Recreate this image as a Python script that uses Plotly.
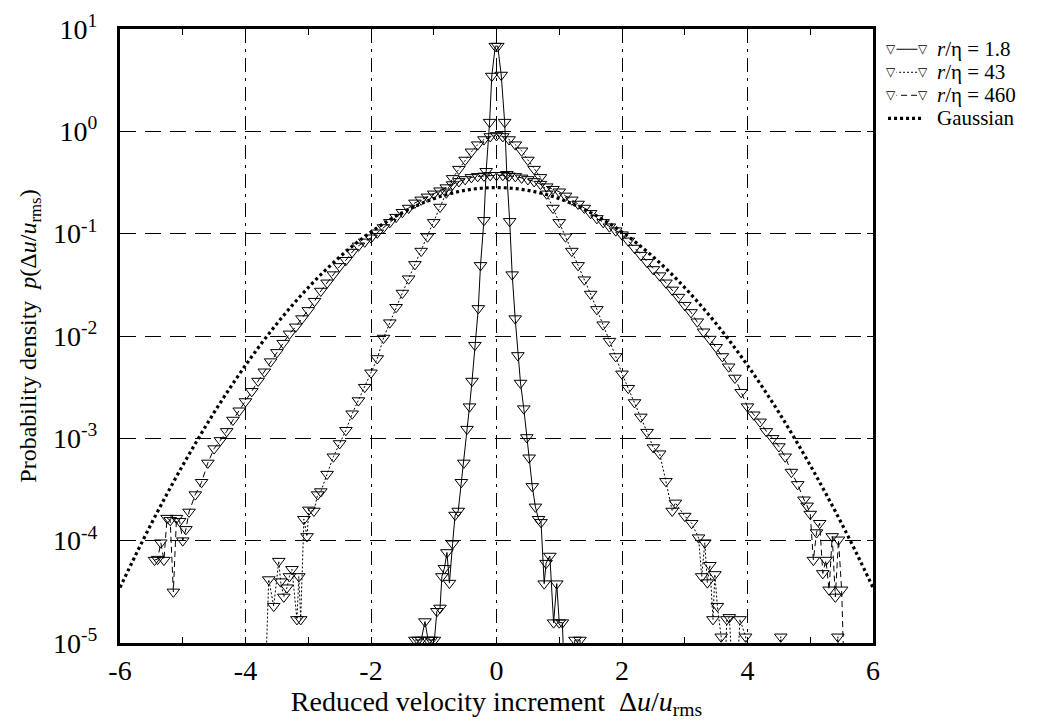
import plotly.graph_objects as go

# r/eta = 1.8
x_18 = [-1.30, -1.25, -1.20, -1.14, -1.09, -1.04, -0.99, -0.95, -0.90, -0.87, -0.83, -0.79,
        -0.75, -0.70, -0.66, -0.61, -0.56, -0.52, -0.47, -0.43, -0.39, -0.345, -0.29, -0.255,
        -0.20, -0.165, -0.11, -0.075, -0.02, 0.02, 0.075, 0.13, 0.165, 0.21, 0.25, 0.298,
        0.34, 0.383, 0.435, 0.483, 0.52, 0.57, 0.62, 0.67, 0.71, 0.76, 0.79, 0.85, 0.91,
        0.96, 1.00, 1.05, 1.10, 1.25, 1.33, 1.40]
y_18 = [1.07e-5, 1.07e-5, 1.07e-5, 1.62e-5, 1.07e-5, 1.07e-5, 1.07e-5, 2.04e-5, 2.2e-5, 4.47e-5,
        5.37e-5, 7.67e-5, 3.85e-5, 9.33e-5, 1.78e-4, 1.95e-4, 3.72e-4, 5.75e-4, 1.23e-3, 2.04e-3,
        3.63e-3, 8.13e-3, 1.86e-2, 4.90e-2, 0.135, 0.407, 1.23, 3.47, 6.8, 6.8, 3.55, 1.23, 0.38,
        0.132, 0.0398, 0.0148, 6.46e-3, 3.47e-3, 1.95e-3, 1.02e-3, 6.46e-4, 3.39e-4, 2.14e-4,
        1.62e-4, 1.51e-4, 3.80e-5, 6.03e-5, 7.08e-5, 1.58e-5, 3.80e-5, 1.58e-5, 1.58e-5, 2e-6,
        1.07e-5, 1.07e-5, 2e-6]

# r/eta = 43
x_43 = [-3.70, -3.63, -3.55, -3.47, -3.44, -3.39, -3.34, -3.30, -3.26, -3.18, -3.15, -3.12,
        -3.07, -3.02, -2.99, -2.91, -2.85, -2.8, -2.7, -2.6, -2.5, -2.4, -2.3, -2.2, -2.1, -2.0,
        -1.9, -1.8, -1.7, -1.6, -1.5, -1.4, -1.3, -1.2, -1.1, -1.0, -0.9, -0.8, -0.7, -0.6,
        -0.5, -0.4, -0.3, -0.2, -0.1, 0.0, 0.1, 0.2, 0.3, 0.4, 0.5, 0.6, 0.7, 0.8, 0.9, 1.0,
        1.1, 1.2, 1.3, 1.4, 1.5, 1.6, 1.7, 1.8, 1.9, 2.0, 2.1, 2.2, 2.3, 2.4, 2.5, 2.6, 2.7,
        2.8, 2.85, 3.0, 3.11, 3.22, 3.27, 3.32, 3.36, 3.40, 3.45, 3.48, 3.52, 3.58, 3.62,
        3.67, 3.71, 3.80, 3.88, 3.97, 4.05, 4.45, 4.53, 4.60, 5.35, 5.44, 5.50]
y_43 = [2e-6, 4.17e-5, 2.29e-5, 6.31e-5, 3.98e-5, 2.82e-5, 3.47e-5, 4.47e-5, 5.25e-5, 1.70e-5,
        4.47e-5, 1.70e-5, 1.62e-4, 1.10e-4, 2.0e-4, 1.95e-4, 2.82e-4, 3.02e-4, 4.47e-4, 6.61e-4,
        8.91e-4, 1.20e-3, 1.74e-3, 2.34e-3, 3.16e-3, 4.37e-3, 6.03e-3, 9.55e-3, 1.35e-2, 1.91e-2,
        2.63e-2, 3.63e-2, 5.01e-2, 6.76e-2, 0.0933, 0.129, 0.182, 0.251, 0.347, 0.427, 0.525,
        0.631, 0.741, 0.832, 0.891, 0.912, 0.891, 0.832, 0.741, 0.646, 0.525, 0.427, 0.355,
        0.245, 0.178, 0.129, 0.0933, 0.0676, 0.0490, 0.0355, 0.0257, 0.0182, 0.0129, 8.91e-3,
        6.31e-3, 4.27e-3, 3.09e-3, 2.24e-3, 1.62e-3, 1.15e-3, 8.13e-4, 7.08e-4, 3.80e-4,
        1.95e-4, 2.34e-4, 1.74e-4, 1.48e-4, 1.07e-4, 4.47e-5, 9.55e-5, 3.89e-5, 5.75e-5,
        1.70e-5, 4.68e-5, 2.29e-5, 1.15e-5, 2e-6, 1.70e-5, 1.78e-5, 2e-6, 1.70e-5, 1.15e-5,
        2e-6, 2e-6, 1.15e-5, 2e-6, 2e-6, 1.15e-5, 2e-6]

# r/eta = 460
x_460 = [-5.45, -5.40, -5.35, -5.30, -5.25, -5.20, -5.15, -5.10, -5.05, -5.00, -4.95,
         -4.9, -4.8, -4.7, -4.6, -4.5, -4.4, -4.3, -4.2, -4.1, -4.0, -3.9, -3.8, -3.7, -3.6,
         -3.5, -3.4, -3.3, -3.2, -3.1, -3.0, -2.9, -2.8, -2.7, -2.6, -2.5, -2.4, -2.3, -2.2,
         -2.1, -2.0, -1.9, -1.8, -1.7, -1.6, -1.5, -1.4, -1.3, -1.2, -1.1, -1.0, -0.9, -0.8,
         -0.7, -0.6, -0.5, -0.4, -0.3, -0.2, -0.1, 0.0, 0.1, 0.2, 0.3, 0.4, 0.5, 0.6, 0.7,
         0.8, 0.9, 1.0, 1.1, 1.2, 1.3, 1.4, 1.5, 1.6, 1.7, 1.8, 1.9, 2.0, 2.1, 2.2, 2.3, 2.4,
         2.5, 2.6, 2.7, 2.8, 2.9, 3.0, 3.1, 3.2, 3.3, 3.4, 3.5, 3.6, 3.7, 3.8, 3.9, 4.0, 4.1,
         4.2, 4.3, 4.4, 4.5, 4.6, 4.7, 4.8, 4.9, 4.95, 5.0, 5.05, 5.10, 5.15, 5.20, 5.25,
         5.30, 5.35, 5.40, 5.45, 5.50, 5.55]
y_460 = [6.46e-5, 6.6e-5, 9.55e-5, 6.46e-5, 1.66e-4, 1.58e-4, 3.16e-5, 1.66e-4, 1.55e-4, 1.0e-4,
         1.29e-4, 1.91e-4, 2.82e-4, 3.72e-4, 5.75e-4, 7.94e-4, 9.55e-4, 1.17e-3, 1.51e-3,
         1.86e-3, 2.29e-3, 2.88e-3, 3.63e-3, 4.47e-3, 5.62e-3, 6.92e-3, 8.51e-3, 1.05e-2,
         1.23e-2, 1.48e-2, 1.78e-2, 2.19e-2, 2.75e-2, 3.31e-2, 3.98e-2, 4.79e-2, 5.50e-2,
         6.61e-2, 7.59e-2, 8.32e-2, 9.12e-2, 0.102, 0.115, 0.129, 0.145, 0.162, 0.178, 0.200,
         0.214, 0.229, 0.245, 0.263, 0.282, 0.302, 0.324, 0.339, 0.355, 0.363, 0.367, 0.372,
         0.372, 0.372, 0.367, 0.363, 0.351, 0.339, 0.324, 0.305, 0.288, 0.272, 0.257, 0.234,
         0.214, 0.195, 0.178, 0.158, 0.141, 0.129, 0.117, 0.107, 0.0977, 0.0851, 0.0724,
         0.0617, 0.0525, 0.0447, 0.0389, 0.0331, 0.0282, 0.0240, 0.0200, 0.0170, 0.0138,
         0.0110, 9.33e-3, 7.76e-3, 6.31e-3, 5.01e-3, 3.89e-3, 2.82e-3, 2.04e-3, 1.70e-3,
         1.45e-3, 1.17e-3, 1.00e-3, 8.32e-4, 6.61e-4, 4.68e-4, 3.55e-4, 2.51e-4, 2.19e-4,
         1.82e-4, 6.46e-5, 1.20e-4, 1.48e-4, 4.79e-5, 6.46e-5, 3.31e-5, 1.10e-4, 2.82e-5,
         1.02e-4, 3.31e-5, 3e-6]

# Gaussian reference curve
x_gauss = [-6.0, -5.75, -5.5, -5.25, -5.0, -4.75, -4.5, -4.25, -4.0, -3.75, -3.5, -3.25,
           -3.0, -2.75, -2.5, -2.25, -2.0, -1.75, -1.5, -1.25, -1.0, -0.75, -0.5, -0.25, 0.0,
           0.25, 0.5, 0.75, 1.0, 1.25, 1.5, 1.75, 2.0, 2.25, 2.5, 2.75, 3.0, 3.25, 3.5, 3.75,
           4.0, 4.25, 4.5, 4.75, 5.0, 5.25, 5.5, 5.75, 6.0]
y_gauss = [3.48e-5, 7.26e-5, 1.47e-4, 2.87e-4, 5.45e-4, 1.00e-3, 1.79e-3, 3.09e-3, 5.17e-3,
           8.39e-3, 0.0132, 0.0201, 0.0297, 0.0426, 0.0591, 0.0796, 0.1038, 0.1312, 0.1607,
           0.1909, 0.2197, 0.2451, 0.2650, 0.2777, 0.2821, 0.2777, 0.2650, 0.2451, 0.2197,
           0.1909, 0.1607, 0.1312, 0.1038, 0.0796, 0.0591, 0.0426, 0.0297, 0.0201, 0.0132,
           8.39e-3, 5.17e-3, 3.09e-3, 1.79e-3, 1.00e-3, 5.45e-4, 2.87e-4, 1.47e-4, 7.26e-5,
           3.48e-5]

x_ticks = [-6, -4, -2, 0, 2, 4, 6]
x_ticktext = ["-6", "-4", "-2", "0", "2", "4", "6"]
y_ticks = [1e-5, 1e-4, 1e-3, 1e-2, 1e-1, 1, 10]
y_ticktext = ["10<sup>-5</sup>", "10<sup>-4</sup>", "10<sup>-3</sup>", "10<sup>-2</sup>",
              "10<sup>-1</sup>", "10<sup>0</sup>", "10<sup>1</sup>"]

legend_names = ["<i>r</i>/η = 1.8", "<i>r</i>/η = 43", "<i>r</i>/η = 460", "Gaussian"]

FONT = "Liberation Serif, Times New Roman, serif"
mk = dict(symbol="triangle-down-open", size=11, color="black", line=dict(width=1, color="black"))
styles = [dict(color="black", width=1),
          dict(color="black", width=1, dash="2px,2px"),
          dict(color="black", width=1, dash="6px,4px")]

fig = go.Figure()
for xs, ys, nm, st in zip([x_18, x_43, x_460], [y_18, y_43, y_460], legend_names, styles):
    fig.add_trace(go.Scatter(x=xs, y=ys, mode="lines+markers", name=nm, line=st, marker=mk))
gauss_line = dict(color="black", width=3.2, dash="3px,3px")
fig.add_trace(go.Scatter(x=x_gauss, y=y_gauss, mode="lines", name=legend_names[3],
                         line=dict(gauss_line, shape="spline")))

# hand-drawn legend (compact, like the original)
lx0, lx1, ltext, ly0, lstep = 1.024, 1.066, 1.083, 0.967, 0.0375
for i, nm in enumerate(legend_names):
    yy = ly0 - i * lstep
    if i < 3:
        st = styles[i]
        fig.add_shape(type="line", xref="paper", yref="paper", x0=lx0, x1=lx1, y0=yy, y1=yy,
                      line=dict(color="black", width=1, dash=st.get("dash", "solid")))
        for xe in (lx0, lx1):
            fig.add_annotation(xref="paper", yref="paper", x=xe, y=yy, text="▽", showarrow=False,
                               font=dict(family="DejaVu Sans", size=12, color="black"),
                               xanchor="center", yanchor="middle", bgcolor="white", borderpad=0)
    else:
        fig.add_shape(type="line", xref="paper", yref="paper", x0=lx0 - 0.004, x1=lx1,
                      y0=yy, y1=yy, line=gauss_line)
    fig.add_annotation(xref="paper", yref="paper", x=ltext, y=yy, text=nm, showarrow=False,
                       xanchor="left", yanchor="middle", font=dict(size=21))

fig.update_layout(
    width=1050, height=727,
    margin=dict(l=112, r=185, t=21, b=92),
    paper_bgcolor="white", plot_bgcolor="white",
    font=dict(family=FONT, color="black", size=24),
    showlegend=False,
)
fig.update_xaxes(
    range=[-6, 6], tickvals=x_ticks, ticktext=x_ticktext, tickfont=dict(size=28),
    showgrid=True, gridcolor="black", gridwidth=1, griddash="14px,6px,3px,6px",
    zeroline=False, showline=True, linecolor="black", linewidth=3, mirror="ticks",
    ticks="inside", ticklen=6, tickcolor="black", automargin=False,
    minor=dict(dtick=1, ticks="inside", ticklen=6, tickcolor="black", showgrid=False),
    title=dict(text="Reduced velocity increment  Δ<i>u</i>/<i>u</i><sub>rms</sub>",
               font=dict(size=28), standoff=6),
)
fig.update_yaxes(
    type="log", range=[-5, 1], tickvals=y_ticks, ticktext=y_ticktext, tickfont=dict(size=28),
    showgrid=True, gridcolor="black", gridwidth=1, griddash="16px,9px",
    zeroline=False, showline=True, linecolor="black", linewidth=3, mirror="ticks",
    ticks="inside", ticklen=6, tickcolor="black", ticklabelstandoff=14, automargin=False,
    ticklabeloverflow="allow",
    title=dict(text="Probability density  <i>p</i>(Δ<i>u</i>/<i>u</i><sub>rms</sub>)",
               font=dict(size=24), standoff=10),
)

fig.write_html("out.html")
